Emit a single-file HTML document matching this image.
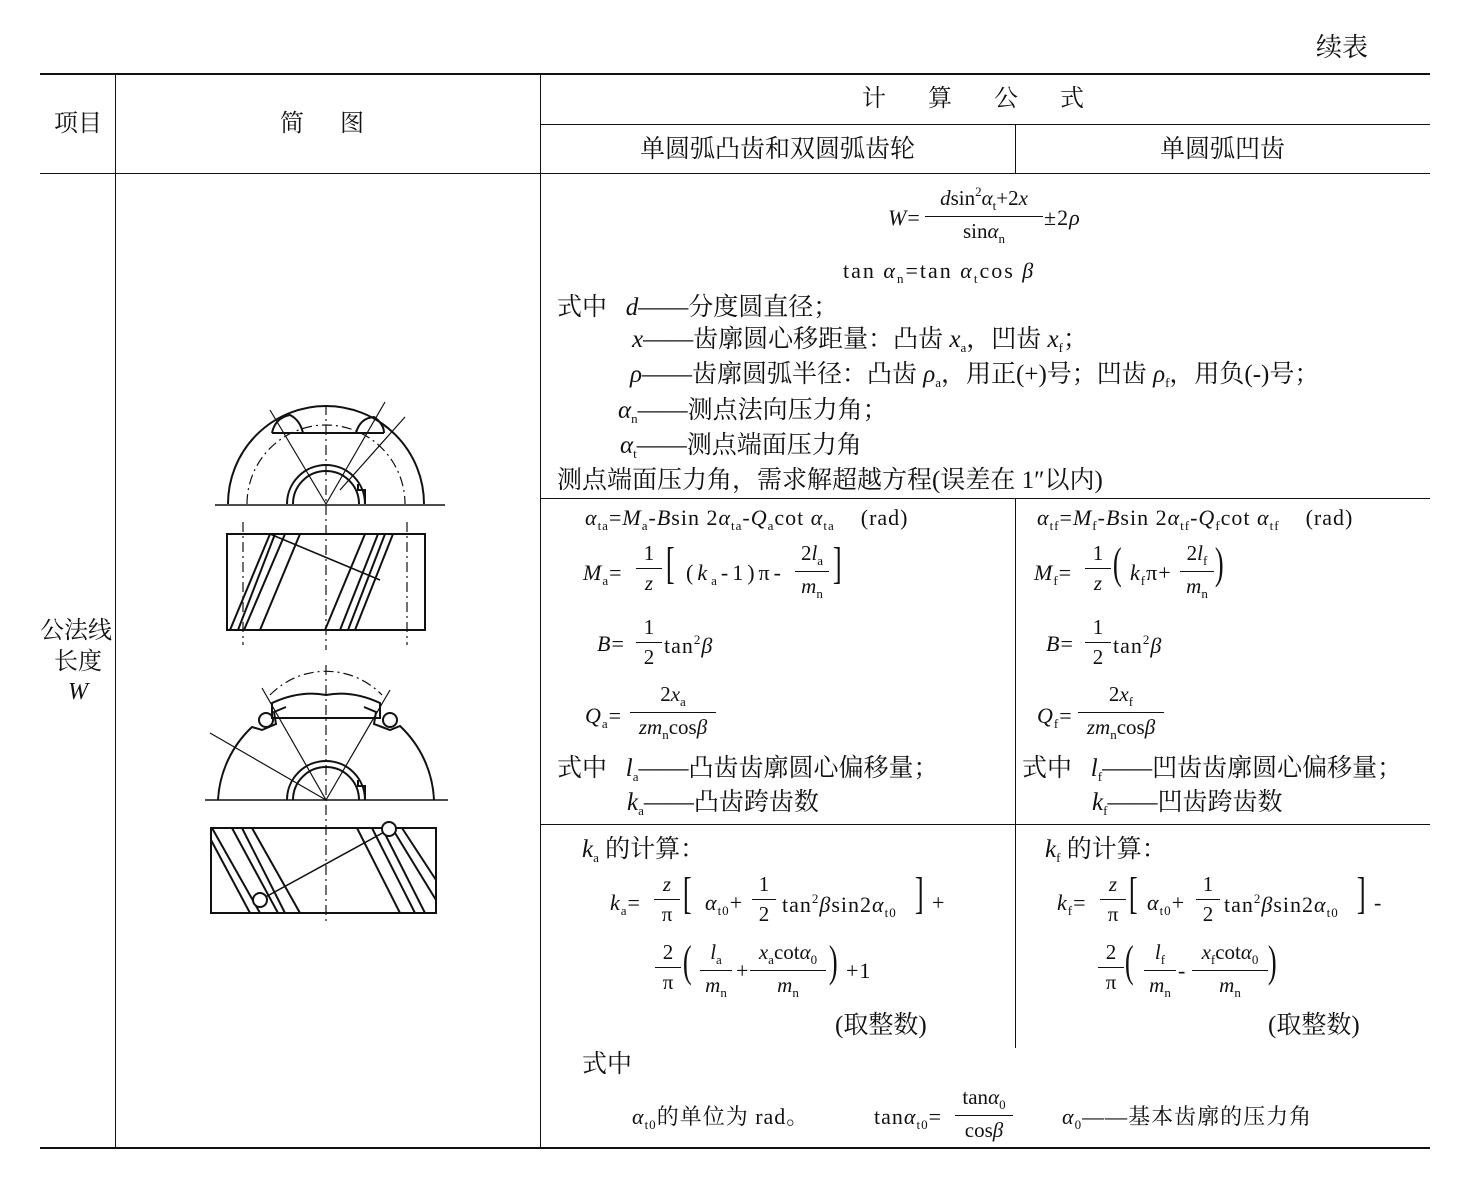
<!DOCTYPE html>
<html><head><meta charset="utf-8">
<style>
body{margin:0;background:#fff;}
#p{position:relative;width:1457px;height:1199px;overflow:hidden;font-family:"Liberation Serif","Noto Serif CJK SC",serif;color:#111;}
.t{position:absolute;white-space:nowrap;font-size:25px;line-height:1;}
.f{font-size:22px !important;letter-spacing:1px;}
.h{position:absolute;background:#111;}
i{font-style:italic;}
sub{font-size:13px;vertical-align:-5px;}
sup{font-size:13px;vertical-align:9px;}
.fr{position:absolute;text-align:center;font-size:21px;line-height:1;}
.fr .n{display:block;padding-bottom:4px;border-bottom:1px solid #111;}
.fr .d{display:block;padding-top:4px;}
.br{position:absolute;font-size:44px;line-height:1;transform:scaleX(0.6);}
</style></head><body><div id="p">
<div class="t" style="left:1316px;top:35px;font-size:26px">续表</div>
<div class="h" style="left:40px;top:73px;width:1390px;height:2px"></div>
<div class="h" style="left:40px;top:173px;width:1390px;height:1px"></div>
<div class="h" style="left:540px;top:124px;width:890px;height:1px"></div>
<div class="h" style="left:540px;top:498px;width:890px;height:1px"></div>
<div class="h" style="left:540px;top:824px;width:890px;height:1px"></div>
<div class="h" style="left:40px;top:1147px;width:1390px;height:2px"></div>
<div class="h" style="left:115px;top:74px;width:1px;height:1074px"></div>
<div class="h" style="left:540px;top:74px;width:1px;height:1074px"></div>
<div class="h" style="left:1015px;top:124px;width:1px;height:50px"></div>
<div class="h" style="left:1015px;top:498px;width:1px;height:550px"></div>
<div class="t" style="left:54px;top:112px;font-size:24px">项目</div>
<div class="t" style="left:280px;top:112px;font-size:24px">简&nbsp;&nbsp;&nbsp;&nbsp;&nbsp;&nbsp;图</div>
<div class="t" style="left:862px;top:87px;font-size:24px">计&nbsp;&nbsp;&nbsp;&nbsp;&nbsp;&nbsp;&nbsp;算&nbsp;&nbsp;&nbsp;&nbsp;&nbsp;&nbsp;&nbsp;公&nbsp;&nbsp;&nbsp;&nbsp;&nbsp;&nbsp;&nbsp;式</div>
<div class="t" style="left:640px;top:137px">单圆弧凸齿和双圆弧齿轮</div>
<div class="t" style="left:1160px;top:137px">单圆弧凹齿</div>
<div class="t" style="left:40px;top:619px;font-size:24px">公法线</div>
<div class="t" style="left:54px;top:650px;font-size:24px">长度</div>
<div class="t" style="left:68px;top:680px;font-size:24px"><i>W</i></div>
<div class="t f" style="left:888px;top:207px"><i>W</i>=</div>
<div class="fr" style="left:925px;top:185px;width:118px"><span class="n"><i>d</i>sin<sup>2</sup><i>α</i><sub>t</sub>+2<i>x</i></span><span class="d">sin<i>α</i><sub>n</sub></span></div>
<div class="t f" style="left:1044px;top:207px">±2<i>ρ</i></div>
<div class="t f" style="left:843px;top:260px;letter-spacing:2px">tan <i>α</i><sub>n</sub>=tan <i>α</i><sub>t</sub>cos <i>β</i></div>
<div class="t" style="left:557px;top:295px">式中&nbsp;&nbsp;&nbsp;<i>d</i>——分度圆直径；</div>
<div class="t" style="left:632px;top:327px"><i>x</i>——齿廓圆心移距量：凸齿 <i>x</i><sub>a</sub>，凹齿 <i>x</i><sub>f</sub>；</div>
<div class="t" style="left:630px;top:362px"><i>ρ</i>——齿廓圆弧半径：凸齿 <i>ρ</i><sub>a</sub>，用正(+)号；凹齿 <i>ρ</i><sub>f</sub>，用负(-)号；</div>
<div class="t" style="left:618px;top:398px"><i>α</i><sub>n</sub>——测点法向压力角；</div>
<div class="t" style="left:620px;top:433px"><i>α</i><sub>t</sub>——测点端面压力角</div>
<div class="t" style="left:557px;top:468px">测点端面压力角，需求解超越方程(误差在 1″以内)</div>
<div class="t f" style="left:585px;top:507px"><i>α</i><sub>ta</sub>=<i>M</i><sub>a</sub>-<i>B</i>sin 2<i>α</i><sub>ta</sub>-<i>Q</i><sub>a</sub>cot <i>α</i><sub>ta</sub>&nbsp;&nbsp;&nbsp;&nbsp;(rad)</div>
<div class="t f" style="left:583px;top:562px"><i>M</i><sub>a</sub>=</div>
<div class="fr" style="left:636px;top:543px;width:26px"><span class="n">1</span><span class="d"><i>z</i></span></div>
<div class="br" style="left:663px;top:542px">[</div>
<div class="t f" style="left:686px;top:562px;letter-spacing:4px">(<i>k</i><sub>a</sub>-1)π-</div>
<div class="fr" style="left:795px;top:543px;width:34px"><span class="n">2<i>l</i><sub>a</sub></span><span class="d"><i>m</i><sub>n</sub></span></div>
<div class="br" style="left:830px;top:542px">]</div>
<div class="t f" style="left:597px;top:633px"><i>B</i>=</div>
<div class="fr" style="left:636px;top:617px;width:26px"><span class="n">1</span><span class="d">2</span></div>
<div class="t f" style="left:664px;top:633px">tan<sup>2</sup><i>β</i></div>
<div class="t f" style="left:585px;top:705px"><i>Q</i><sub>a</sub>=</div>
<div class="fr" style="left:630px;top:684px;width:86px"><span class="n">2<i>x</i><sub>a</sub></span><span class="d"><i>zm</i><sub>n</sub>cos<i>β</i></span></div>
<div class="t" style="left:557px;top:756px">式中&nbsp;&nbsp;&nbsp;<i>l</i><sub>a</sub>——凸齿齿廓圆心偏移量；</div>
<div class="t" style="left:627px;top:790px"><i>k</i><sub>a</sub>——凸齿跨齿数</div>
<div class="t f" style="left:1037px;top:507px"><i>α</i><sub>tf</sub>=<i>M</i><sub>f</sub>-<i>B</i>sin 2<i>α</i><sub>tf</sub>-<i>Q</i><sub>f</sub>cot <i>α</i><sub>tf</sub>&nbsp;&nbsp;&nbsp;&nbsp;(rad)</div>
<div class="t f" style="left:1034px;top:562px"><i>M</i><sub>f</sub>=</div>
<div class="fr" style="left:1085px;top:543px;width:26px"><span class="n">1</span><span class="d"><i>z</i></span></div>
<div class="br" style="left:1110px;top:542px">(</div>
<div class="t f" style="left:1130px;top:562px"><i>k</i><sub>f</sub>π+</div>
<div class="fr" style="left:1180px;top:543px;width:34px"><span class="n">2<i>l</i><sub>f</sub></span><span class="d"><i>m</i><sub>n</sub></span></div>
<div class="br" style="left:1212px;top:542px">)</div>
<div class="t f" style="left:1046px;top:633px"><i>B</i>=</div>
<div class="fr" style="left:1085px;top:617px;width:26px"><span class="n">1</span><span class="d">2</span></div>
<div class="t f" style="left:1113px;top:633px">tan<sup>2</sup><i>β</i></div>
<div class="t f" style="left:1037px;top:705px"><i>Q</i><sub>f</sub>=</div>
<div class="fr" style="left:1078px;top:684px;width:86px"><span class="n">2<i>x</i><sub>f</sub></span><span class="d"><i>zm</i><sub>n</sub>cos<i>β</i></span></div>
<div class="t" style="left:1022px;top:756px">式中&nbsp;&nbsp;&nbsp;<i>l</i><sub>f</sub>——凹齿齿廓圆心偏移量；</div>
<div class="t" style="left:1092px;top:790px"><i>k</i><sub>f</sub>——凹齿跨齿数</div>
<div class="t" style="left:582px;top:837px"><i>k</i><sub>a</sub> 的计算：</div>
<div class="t f" style="left:610px;top:892px"><i>k</i><sub>a</sub>=</div>
<div class="fr" style="left:654px;top:874px;width:26px"><span class="n"><i>z</i></span><span class="d">π</span></div>
<div class="br" style="left:680px;top:872px">[</div>
<div class="t f" style="left:705px;top:892px"><i>α</i><sub>t0</sub>+</div>
<div class="fr" style="left:752px;top:874px;width:24px"><span class="n">1</span><span class="d">2</span></div>
<div class="t f" style="left:782px;top:892px">tan<sup>2</sup><i>β</i>sin2<i>α</i><sub>t0</sub></div>
<div class="br" style="left:912px;top:872px">]</div>
<div class="t f" style="left:932px;top:892px">+</div>
<div class="fr" style="left:655px;top:942px;width:26px"><span class="n">2</span><span class="d">π</span></div>
<div class="br" style="left:680px;top:940px">(</div>
<div class="fr" style="left:700px;top:942px;width:32px"><span class="n"><i>l</i><sub>a</sub></span><span class="d"><i>m</i><sub>n</sub></span></div>
<div class="t f" style="left:736px;top:960px">+</div>
<div class="fr" style="left:750px;top:942px;width:76px"><span class="n"><i>x</i><sub>a</sub>cot<i>α</i><sub>0</sub></span><span class="d"><i>m</i><sub>n</sub></span></div>
<div class="br" style="left:826px;top:940px">)</div>
<div class="t f" style="left:846px;top:960px">+1</div>
<div class="t" style="left:835px;top:1013px">(取整数)</div>
<div class="t" style="left:1045px;top:837px"><i>k</i><sub>f</sub> 的计算：</div>
<div class="t f" style="left:1057px;top:892px"><i>k</i><sub>f</sub>=</div>
<div class="fr" style="left:1100px;top:874px;width:26px"><span class="n"><i>z</i></span><span class="d">π</span></div>
<div class="br" style="left:1126px;top:872px">[</div>
<div class="t f" style="left:1147px;top:892px"><i>α</i><sub>t0</sub>+</div>
<div class="fr" style="left:1196px;top:874px;width:24px"><span class="n">1</span><span class="d">2</span></div>
<div class="t f" style="left:1224px;top:892px">tan<sup>2</sup><i>β</i>sin2<i>α</i><sub>t0</sub></div>
<div class="br" style="left:1354px;top:872px">]</div>
<div class="t f" style="left:1374px;top:892px">-</div>
<div class="fr" style="left:1098px;top:942px;width:26px"><span class="n">2</span><span class="d">π</span></div>
<div class="br" style="left:1122px;top:940px">(</div>
<div class="fr" style="left:1144px;top:942px;width:32px"><span class="n"><i>l</i><sub>f</sub></span><span class="d"><i>m</i><sub>n</sub></span></div>
<div class="t f" style="left:1178px;top:960px">-</div>
<div class="fr" style="left:1192px;top:942px;width:76px"><span class="n"><i>x</i><sub>f</sub>cot<i>α</i><sub>0</sub></span><span class="d"><i>m</i><sub>n</sub></span></div>
<div class="br" style="left:1265px;top:940px">)</div>
<div class="t" style="left:1268px;top:1013px">(取整数)</div>
<div class="t" style="left:582px;top:1052px">式中</div>
<div class="t f" style="left:632px;top:1106px"><i>α</i><sub>t0</sub>的单位为 rad。</div>
<div class="t f" style="left:874px;top:1106px">tan<i>α</i><sub>t0</sub>=</div>
<div class="fr" style="left:955px;top:1087px;width:58px"><span class="n">tan<i>α</i><sub>0</sub></span><span class="d">cos<i>β</i></span></div>
<div class="t f" style="left:1062px;top:1106px"><i>α</i><sub>0</sub>——基本齿廓的压力角</div>
<svg style="position:absolute;left:0;top:0" width="1457" height="1199" fill="none" stroke="#111" stroke-width="2">
<g>
<path d="M228 504 A98 98 0 0 1 424 504"/>
<path d="M247 504 A79 79 0 0 1 405 504" stroke-width="1.2" stroke-dasharray="10 4 2 4"/>
<path d="M287 504 A39 39 0 0 1 365 504 L365 490 L358 490 L358 484"/>
<path d="M293 504 A33 33 0 0 1 359 504"/>
<line x1="215" y1="505" x2="445" y2="505" stroke-width="1.5"/>
<line x1="326" y1="405" x2="326" y2="650" stroke-width="1.2" stroke-dasharray="10 4 2 4"/>
<line x1="272" y1="433" x2="384" y2="433"/>
<path d="M272 433 Q275 418 290 415 Q300 420 303 433"/>
<path d="M356 433 Q360 418 374 417 Q384 424 384 433"/>
<line x1="270" y1="410" x2="326" y2="504" stroke-width="1.2"/>
<line x1="385" y1="402" x2="326" y2="504" stroke-width="1.2"/>
<line x1="405" y1="417" x2="340" y2="490" stroke-width="1.2"/>
<rect x="227" y="534" width="198" height="96"/>
<line x1="243" y1="522" x2="243" y2="645" stroke-width="1.2" stroke-dasharray="10 4 2 4"/>
<line x1="407" y1="522" x2="407" y2="645" stroke-width="1.2" stroke-dasharray="10 4 2 4"/>
<path d="M230 630 L270 534 M238 630 L275 534 M244 630 L285 534 M260 630 L300 534 M325 630 L365 534 M340 630 L378 534 M348 630 L385 534 M355 630 L393 534"/>
<line x1="270" y1="534" x2="380" y2="580" stroke-width="1.5"/>
</g>
<g>
<path d="M218 800 A108 108 0 0 1 252 727 L262 730 L276 724 L274 712 L286 707 M364 707 L376 712 L374 724 L390 730 L400 726 A108 108 0 0 1 434 800"/>
<path d="M272 703 Q300 690 326 695 Q352 690 380 703 L380 718 L272 718 Z"/>
<path d="M270 695 A78 78 0 0 1 382 695" stroke-width="1.2" stroke-dasharray="10 4 2 4"/>
<circle cx="266" cy="720" r="7"/><circle cx="390" cy="720" r="7"/>
<path d="M287 800 A39 39 0 0 1 365 800 L365 786 L358 786 L358 780"/>
<path d="M293 800 A33 33 0 0 1 359 800"/>
<line x1="205" y1="800" x2="448" y2="800" stroke-width="1.5"/>
<line x1="326" y1="665" x2="326" y2="925" stroke-width="1.2" stroke-dasharray="10 4 2 4"/>
<line x1="262" y1="688" x2="326" y2="800" stroke-width="1.2"/>
<line x1="390" y1="690" x2="326" y2="800" stroke-width="1.2"/>
<line x1="210" y1="733" x2="326" y2="800" stroke-width="1.2"/>
<rect x="211" y="828" width="225" height="85"/>
<path d="M211 840 L250 913 M212 828 L260 913 M232 828 L278 913 M242 828 L285 913 M252 828 L300 913 M357 828 L400 913 M372 828 L415 913 M382 828 L425 913 M392 828 L436 900 M402 828 L436 880"/>
<line x1="260" y1="900" x2="388" y2="830" stroke-width="1.5"/>
<circle cx="260" cy="900" r="7" fill="#fff"/><circle cx="389" cy="829" r="7" fill="#fff"/>
</g>
</svg>
</div></body></html>
